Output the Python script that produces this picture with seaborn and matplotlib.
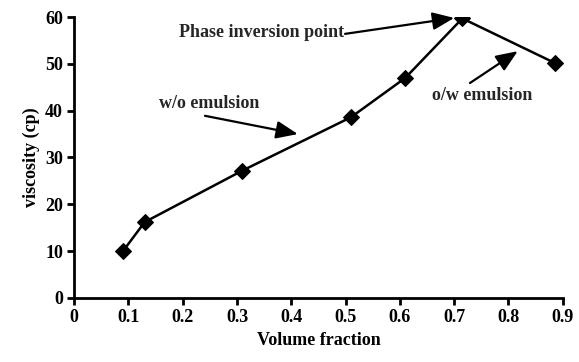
import matplotlib
matplotlib.use("Agg")
import matplotlib.pyplot as plt
import seaborn as sns
import pandas as pd

volume_fraction = [0.09, 0.13, 0.31, 0.51, 0.61, 0.715, 0.885]
viscosity = [10.0, 16.2, 27.2, 38.6, 47.0, 59.7, 50.2]
x_ticks = [0, 0.1, 0.2, 0.3, 0.4, 0.5, 0.6, 0.7, 0.8, 0.9]
x_tick_labels = ["0", "0.1", "0.2", "0.3", "0.4", "0.5", "0.6", "0.7", "0.8", "0.9"]
y_ticks = [0, 10, 20, 30, 40, 50, 60]

sns.set_theme(style="ticks")
plt.rcParams["font.family"] = ["Liberation Serif", "DejaVu Serif"]
plt.rcParams["font.weight"] = "bold"

df = pd.DataFrame({"x": volume_fraction, "y": viscosity})

fig, ax = plt.subplots(figsize=(5.79, 3.62), dpi=100)
fig.subplots_adjust(left=0.128, right=0.972, bottom=0.177, top=0.953)

sns.lineplot(data=df, x="x", y="y", ax=ax, color="black", linewidth=1.8,
             marker="D", markersize=8.5, markeredgecolor="black", markerfacecolor="black")

fs = 13
ax.set_xlim(0, 0.9)
ax.set_ylim(0, 60)
ax.set_xticks(x_ticks)
ax.set_xticklabels(x_tick_labels)
ax.set_yticks(y_ticks)
ax.tick_params(axis="both", labelsize=fs, width=2, length=5, color="black", labelcolor="black", pad=3)
for lbl in ax.get_xticklabels() + ax.get_yticklabels():
    lbl.set_fontweight("bold")
ax.set_xlabel("Volume fraction", fontsize=fs, fontweight="bold", color="black", labelpad=4)
ax.set_ylabel("viscosity (cp)", fontsize=fs, fontweight="bold", color="black", labelpad=4)
sns.despine(ax=ax)
for s in ["left", "bottom"]:
    ax.spines[s].set_linewidth(2)
    ax.spines[s].set_color("black")

arrow = dict(arrowstyle="-|>,head_length=1.1,head_width=0.45", color="black", lw=1.6,
             shrinkA=0, shrinkB=0)
# Arrows
ax.annotate("", xy=(0.700, 59.8), xytext=(0.499, 56.4), arrowprops=arrow)
ax.annotate("", xy=(0.412, 35.0), xytext=(0.241, 38.9), arrowprops=arrow)
ax.annotate("", xy=(0.817, 52.7), xytext=(0.729, 45.9), arrowprops=arrow)
# Labels
ax.text(0.497, 56.6, "Phase inversion point", fontsize=fs, fontweight="bold",
        ha="right", va="center")
ax.text(0.249, 41.6, "w/o emulsion", fontsize=fs, fontweight="bold",
        ha="center", va="center")
ax.text(0.751, 43.3, "o/w emulsion", fontsize=fs, fontweight="bold",
        ha="center", va="center")

fig.savefig("out.png", dpi=100)
